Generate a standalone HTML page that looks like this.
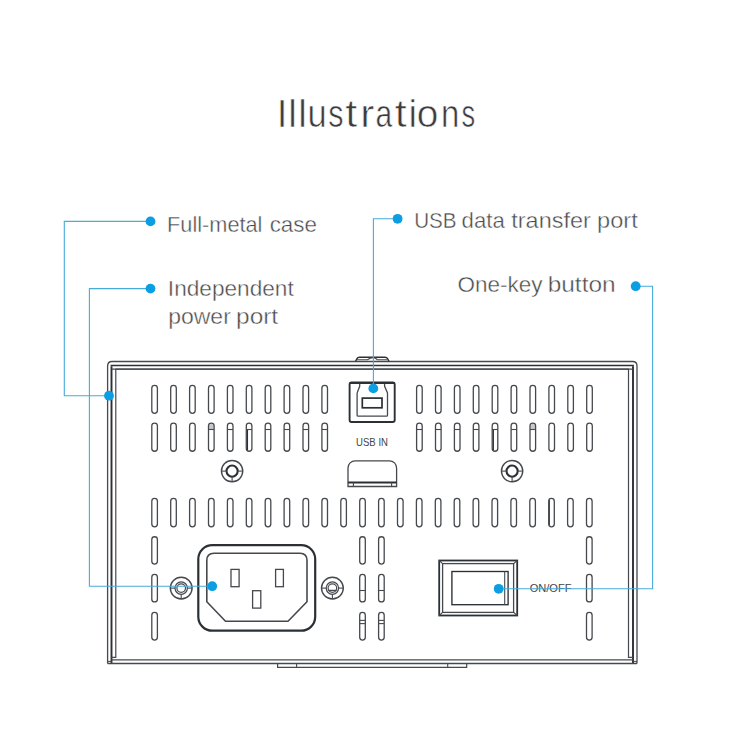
<!DOCTYPE html>
<html><head><meta charset="utf-8"><style>
html,body{margin:0;padding:0;background:#fff;width:750px;height:750px;overflow:hidden}
svg{position:absolute;left:0;top:0}
.t{font-family:"Liberation Sans",sans-serif;stroke:#fff;stroke-width:0.4px}
.big{stroke-width:0.6px}
.nos{stroke:none}

</style></head><body>
<svg width="750" height="750" viewBox="0 0 750 750">
<rect width="750" height="750" fill="#ffffff"/>
<rect x="151.80" y="385.35" width="5.60" height="28.00" rx="2.80" ry="2.80" fill="none" stroke="#45494e" stroke-width="1.3"/>
<rect x="151.80" y="423.05" width="5.60" height="28.20" rx="2.80" ry="2.80" fill="none" stroke="#45494e" stroke-width="1.3"/>
<rect x="416.60" y="385.35" width="5.60" height="28.00" rx="2.80" ry="2.80" fill="none" stroke="#45494e" stroke-width="1.3"/>
<rect x="416.60" y="423.05" width="5.60" height="28.20" rx="2.80" ry="2.80" fill="none" stroke="#45494e" stroke-width="1.3"/>
<rect x="170.70" y="385.35" width="5.60" height="28.00" rx="2.80" ry="2.80" fill="none" stroke="#45494e" stroke-width="1.3"/>
<rect x="170.70" y="423.05" width="5.60" height="28.20" rx="2.80" ry="2.80" fill="none" stroke="#45494e" stroke-width="1.3"/>
<rect x="435.50" y="385.35" width="5.60" height="28.00" rx="2.80" ry="2.80" fill="none" stroke="#45494e" stroke-width="1.3"/>
<rect x="435.50" y="423.05" width="5.60" height="28.20" rx="2.80" ry="2.80" fill="none" stroke="#45494e" stroke-width="1.3"/>
<rect x="189.60" y="385.35" width="5.60" height="28.00" rx="2.80" ry="2.80" fill="none" stroke="#45494e" stroke-width="1.3"/>
<rect x="189.60" y="423.05" width="5.60" height="28.20" rx="2.80" ry="2.80" fill="none" stroke="#45494e" stroke-width="1.3"/>
<rect x="454.40" y="385.35" width="5.60" height="28.00" rx="2.80" ry="2.80" fill="none" stroke="#45494e" stroke-width="1.3"/>
<rect x="454.40" y="423.05" width="5.60" height="28.20" rx="2.80" ry="2.80" fill="none" stroke="#45494e" stroke-width="1.3"/>
<rect x="208.50" y="385.35" width="5.60" height="28.00" rx="2.80" ry="2.80" fill="none" stroke="#45494e" stroke-width="1.3"/>
<rect x="208.50" y="423.05" width="5.60" height="28.20" rx="2.80" ry="2.80" fill="none" stroke="#45494e" stroke-width="1.3"/>
<rect x="473.30" y="385.35" width="5.60" height="28.00" rx="2.80" ry="2.80" fill="none" stroke="#45494e" stroke-width="1.3"/>
<rect x="473.30" y="423.05" width="5.60" height="28.20" rx="2.80" ry="2.80" fill="none" stroke="#45494e" stroke-width="1.3"/>
<rect x="227.40" y="385.35" width="5.60" height="28.00" rx="2.80" ry="2.80" fill="none" stroke="#45494e" stroke-width="1.3"/>
<rect x="227.40" y="423.05" width="5.60" height="28.20" rx="2.80" ry="2.80" fill="none" stroke="#45494e" stroke-width="1.3"/>
<rect x="492.20" y="385.35" width="5.60" height="28.00" rx="2.80" ry="2.80" fill="none" stroke="#45494e" stroke-width="1.3"/>
<rect x="492.20" y="423.05" width="5.60" height="28.20" rx="2.80" ry="2.80" fill="none" stroke="#45494e" stroke-width="1.3"/>
<rect x="246.30" y="385.35" width="5.60" height="28.00" rx="2.80" ry="2.80" fill="none" stroke="#45494e" stroke-width="1.3"/>
<rect x="246.30" y="423.05" width="5.60" height="28.20" rx="2.80" ry="2.80" fill="none" stroke="#45494e" stroke-width="1.3"/>
<rect x="511.10" y="385.35" width="5.60" height="28.00" rx="2.80" ry="2.80" fill="none" stroke="#45494e" stroke-width="1.3"/>
<rect x="511.10" y="423.05" width="5.60" height="28.20" rx="2.80" ry="2.80" fill="none" stroke="#45494e" stroke-width="1.3"/>
<rect x="265.20" y="385.35" width="5.60" height="28.00" rx="2.80" ry="2.80" fill="none" stroke="#45494e" stroke-width="1.3"/>
<rect x="265.20" y="423.05" width="5.60" height="28.20" rx="2.80" ry="2.80" fill="none" stroke="#45494e" stroke-width="1.3"/>
<rect x="530.00" y="385.35" width="5.60" height="28.00" rx="2.80" ry="2.80" fill="none" stroke="#45494e" stroke-width="1.3"/>
<rect x="530.00" y="423.05" width="5.60" height="28.20" rx="2.80" ry="2.80" fill="none" stroke="#45494e" stroke-width="1.3"/>
<rect x="284.10" y="385.35" width="5.60" height="28.00" rx="2.80" ry="2.80" fill="none" stroke="#45494e" stroke-width="1.3"/>
<rect x="284.10" y="423.05" width="5.60" height="28.20" rx="2.80" ry="2.80" fill="none" stroke="#45494e" stroke-width="1.3"/>
<rect x="548.90" y="385.35" width="5.60" height="28.00" rx="2.80" ry="2.80" fill="none" stroke="#45494e" stroke-width="1.3"/>
<rect x="548.90" y="423.05" width="5.60" height="28.20" rx="2.80" ry="2.80" fill="none" stroke="#45494e" stroke-width="1.3"/>
<rect x="303.00" y="385.35" width="5.60" height="28.00" rx="2.80" ry="2.80" fill="none" stroke="#45494e" stroke-width="1.3"/>
<rect x="303.00" y="423.05" width="5.60" height="28.20" rx="2.80" ry="2.80" fill="none" stroke="#45494e" stroke-width="1.3"/>
<rect x="567.80" y="385.35" width="5.60" height="28.00" rx="2.80" ry="2.80" fill="none" stroke="#45494e" stroke-width="1.3"/>
<rect x="567.80" y="423.05" width="5.60" height="28.20" rx="2.80" ry="2.80" fill="none" stroke="#45494e" stroke-width="1.3"/>
<rect x="321.90" y="385.35" width="5.60" height="28.00" rx="2.80" ry="2.80" fill="none" stroke="#45494e" stroke-width="1.3"/>
<rect x="321.90" y="423.05" width="5.60" height="28.20" rx="2.80" ry="2.80" fill="none" stroke="#45494e" stroke-width="1.3"/>
<rect x="586.70" y="385.35" width="5.60" height="28.00" rx="2.80" ry="2.80" fill="none" stroke="#45494e" stroke-width="1.3"/>
<rect x="586.70" y="423.05" width="5.60" height="28.20" rx="2.80" ry="2.80" fill="none" stroke="#45494e" stroke-width="1.3"/>
<line x1="208.50" y1="429.50" x2="214.10" y2="429.50" stroke="#45494e" stroke-width="1.1"/>
<line x1="227.40" y1="429.50" x2="233.00" y2="429.50" stroke="#45494e" stroke-width="1.1"/>
<line x1="246.30" y1="429.50" x2="251.90" y2="429.50" stroke="#45494e" stroke-width="1.1"/>
<line x1="265.20" y1="429.50" x2="270.80" y2="429.50" stroke="#45494e" stroke-width="1.1"/>
<line x1="284.10" y1="429.50" x2="289.70" y2="429.50" stroke="#45494e" stroke-width="1.1"/>
<line x1="303.00" y1="429.50" x2="308.60" y2="429.50" stroke="#45494e" stroke-width="1.1"/>
<line x1="321.90" y1="429.50" x2="327.50" y2="429.50" stroke="#45494e" stroke-width="1.1"/>
<line x1="416.60" y1="429.50" x2="422.20" y2="429.50" stroke="#45494e" stroke-width="1.1"/>
<line x1="435.50" y1="429.50" x2="441.10" y2="429.50" stroke="#45494e" stroke-width="1.1"/>
<line x1="454.40" y1="429.50" x2="460.00" y2="429.50" stroke="#45494e" stroke-width="1.1"/>
<line x1="473.30" y1="429.50" x2="478.90" y2="429.50" stroke="#45494e" stroke-width="1.1"/>
<line x1="492.20" y1="429.50" x2="497.80" y2="429.50" stroke="#45494e" stroke-width="1.1"/>
<line x1="511.10" y1="429.50" x2="516.70" y2="429.50" stroke="#45494e" stroke-width="1.1"/>
<line x1="530.00" y1="429.50" x2="535.60" y2="429.50" stroke="#45494e" stroke-width="1.1"/>
<line x1="247.50" y1="430.00" x2="247.50" y2="450.00" stroke="#2b3035" stroke-width="1.1"/>
<line x1="493.40" y1="430.00" x2="493.40" y2="450.00" stroke="#2b3035" stroke-width="1.1"/>
<path d="M208.90,429.5 V426.3 A2.4,2.4 0 0 1 213.70,426.3 V429.5 Z" fill="#45494e" fill-opacity="0.3"/>
<path d="M530.40,429.5 V426.3 A2.4,2.4 0 0 1 535.20,426.3 V429.5 Z" fill="#45494e" fill-opacity="0.3"/>
<rect x="151.80" y="498.35" width="5.60" height="28.50" rx="2.80" ry="2.80" fill="none" stroke="#45494e" stroke-width="1.3"/>
<rect x="170.70" y="498.35" width="5.60" height="28.50" rx="2.80" ry="2.80" fill="none" stroke="#45494e" stroke-width="1.3"/>
<rect x="189.60" y="498.35" width="5.60" height="28.50" rx="2.80" ry="2.80" fill="none" stroke="#45494e" stroke-width="1.3"/>
<rect x="208.50" y="498.35" width="5.60" height="28.50" rx="2.80" ry="2.80" fill="none" stroke="#45494e" stroke-width="1.3"/>
<rect x="227.40" y="498.35" width="5.60" height="28.50" rx="2.80" ry="2.80" fill="none" stroke="#45494e" stroke-width="1.3"/>
<rect x="246.30" y="498.35" width="5.60" height="28.50" rx="2.80" ry="2.80" fill="none" stroke="#45494e" stroke-width="1.3"/>
<rect x="265.20" y="498.35" width="5.60" height="28.50" rx="2.80" ry="2.80" fill="none" stroke="#45494e" stroke-width="1.3"/>
<rect x="284.10" y="498.35" width="5.60" height="28.50" rx="2.80" ry="2.80" fill="none" stroke="#45494e" stroke-width="1.3"/>
<rect x="303.00" y="498.35" width="5.60" height="28.50" rx="2.80" ry="2.80" fill="none" stroke="#45494e" stroke-width="1.3"/>
<rect x="321.90" y="498.35" width="5.60" height="28.50" rx="2.80" ry="2.80" fill="none" stroke="#45494e" stroke-width="1.3"/>
<rect x="340.80" y="498.35" width="5.60" height="28.50" rx="2.80" ry="2.80" fill="none" stroke="#45494e" stroke-width="1.3"/>
<rect x="359.70" y="498.35" width="5.60" height="28.50" rx="2.80" ry="2.80" fill="none" stroke="#45494e" stroke-width="1.3"/>
<rect x="378.60" y="498.35" width="5.60" height="28.50" rx="2.80" ry="2.80" fill="none" stroke="#45494e" stroke-width="1.3"/>
<rect x="397.50" y="498.35" width="5.60" height="28.50" rx="2.80" ry="2.80" fill="none" stroke="#45494e" stroke-width="1.3"/>
<rect x="416.40" y="498.35" width="5.60" height="28.50" rx="2.80" ry="2.80" fill="none" stroke="#45494e" stroke-width="1.3"/>
<rect x="435.30" y="498.35" width="5.60" height="28.50" rx="2.80" ry="2.80" fill="none" stroke="#45494e" stroke-width="1.3"/>
<rect x="454.20" y="498.35" width="5.60" height="28.50" rx="2.80" ry="2.80" fill="none" stroke="#45494e" stroke-width="1.3"/>
<rect x="473.10" y="498.35" width="5.60" height="28.50" rx="2.80" ry="2.80" fill="none" stroke="#45494e" stroke-width="1.3"/>
<rect x="492.00" y="498.35" width="5.60" height="28.50" rx="2.80" ry="2.80" fill="none" stroke="#45494e" stroke-width="1.3"/>
<rect x="510.90" y="498.35" width="5.60" height="28.50" rx="2.80" ry="2.80" fill="none" stroke="#45494e" stroke-width="1.3"/>
<rect x="529.80" y="498.35" width="5.60" height="28.50" rx="2.80" ry="2.80" fill="none" stroke="#45494e" stroke-width="1.3"/>
<rect x="548.70" y="498.35" width="5.60" height="28.50" rx="2.80" ry="2.80" fill="none" stroke="#45494e" stroke-width="1.3"/>
<rect x="567.60" y="498.35" width="5.60" height="28.50" rx="2.80" ry="2.80" fill="none" stroke="#45494e" stroke-width="1.3"/>
<rect x="586.50" y="498.35" width="5.60" height="28.50" rx="2.80" ry="2.80" fill="none" stroke="#45494e" stroke-width="1.3"/>
<line x1="549.50" y1="500.00" x2="549.50" y2="525.20" stroke="#45494e" stroke-width="1.0"/>
<rect x="151.80" y="536.75" width="5.60" height="27.30" rx="2.80" ry="2.80" fill="none" stroke="#45494e" stroke-width="1.3"/>
<rect x="151.80" y="574.35" width="5.60" height="27.60" rx="2.80" ry="2.80" fill="none" stroke="#45494e" stroke-width="1.3"/>
<rect x="151.80" y="612.35" width="5.60" height="27.70" rx="2.80" ry="2.80" fill="none" stroke="#45494e" stroke-width="1.3"/>
<rect x="359.70" y="536.75" width="5.60" height="27.30" rx="2.80" ry="2.80" fill="none" stroke="#45494e" stroke-width="1.3"/>
<rect x="359.70" y="574.35" width="5.60" height="27.60" rx="2.80" ry="2.80" fill="none" stroke="#45494e" stroke-width="1.3"/>
<rect x="359.70" y="612.35" width="5.60" height="27.70" rx="2.80" ry="2.80" fill="none" stroke="#45494e" stroke-width="1.3"/>
<rect x="378.60" y="536.75" width="5.60" height="27.30" rx="2.80" ry="2.80" fill="none" stroke="#45494e" stroke-width="1.3"/>
<rect x="378.60" y="574.35" width="5.60" height="27.60" rx="2.80" ry="2.80" fill="none" stroke="#45494e" stroke-width="1.3"/>
<rect x="378.60" y="612.35" width="5.60" height="27.70" rx="2.80" ry="2.80" fill="none" stroke="#45494e" stroke-width="1.3"/>
<rect x="586.50" y="536.75" width="5.60" height="27.30" rx="2.80" ry="2.80" fill="none" stroke="#45494e" stroke-width="1.3"/>
<rect x="586.50" y="574.35" width="5.60" height="27.60" rx="2.80" ry="2.80" fill="none" stroke="#45494e" stroke-width="1.3"/>
<rect x="586.50" y="612.35" width="5.60" height="27.70" rx="2.80" ry="2.80" fill="none" stroke="#45494e" stroke-width="1.3"/>
<line x1="359.70" y1="590.50" x2="365.30" y2="590.50" stroke="#45494e" stroke-width="1.1"/>
<line x1="359.70" y1="620.40" x2="365.30" y2="620.40" stroke="#45494e" stroke-width="1.1"/>
<line x1="359.70" y1="623.60" x2="365.30" y2="623.60" stroke="#45494e" stroke-width="1.1"/>
<line x1="378.60" y1="590.50" x2="384.20" y2="590.50" stroke="#45494e" stroke-width="1.1"/>
<line x1="378.60" y1="620.40" x2="384.20" y2="620.40" stroke="#45494e" stroke-width="1.1"/>
<line x1="378.60" y1="623.60" x2="384.20" y2="623.60" stroke="#45494e" stroke-width="1.1"/>
<path d="M107.6,663.5 V366 Q107.6,361.5 112,361.5 H632.6 Q637,361.5 637,366 V663.5" fill="none" stroke="#45494e" stroke-width="1.3"/>
<path d="M111.5,663.5 V366.2 M633.0,366.2 V663.5" fill="none" stroke="#2b3035" stroke-width="1.9"/>
<path d="M110.6,365.5 H633.9" fill="none" stroke="#2b3035" stroke-width="1.4"/>
<path d="M111.5,657.3 H115.8 V369.2 H628.5 V657.3 H633" fill="none" stroke="#45494e" stroke-width="1.2"/>
<line x1="107.60" y1="663.50" x2="637.00" y2="663.50" stroke="#45494e" stroke-width="1.3"/>
<line x1="111.50" y1="659.90" x2="633.00" y2="659.90" stroke="#45494e" stroke-width="1.4"/>
<line x1="107.60" y1="661.40" x2="111.50" y2="661.40" stroke="#45494e" stroke-width="1.0"/>
<line x1="633.00" y1="661.40" x2="637.00" y2="661.40" stroke="#45494e" stroke-width="1.0"/>
<line x1="111.60" y1="369.20" x2="632.90" y2="369.20" stroke="#45494e" stroke-width="1.2"/>
<path d="M355.5,361.5 L356.8,358.8 Q357.6,357.3 359.5,357.3 H385 Q386.9,357.3 387.7,358.8 L389,361.5" fill="none" stroke="#2b3035" stroke-width="1.4"/>
<path d="M357,359.8 H367.5 Q370.5,357.6 373,357.6 Q375.5,357.6 377.5,359.8 H388" fill="none" stroke="#45494e" stroke-width="1.1"/>
<path d="M277.6,663.5 V667.4 H466.7 V663.5" fill="none" stroke="#45494e" stroke-width="1.2"/>
<line x1="296.60" y1="663.50" x2="296.60" y2="667.40" stroke="#45494e" stroke-width="1.1"/>
<line x1="447.70" y1="663.50" x2="447.70" y2="667.40" stroke="#45494e" stroke-width="1.1"/>
<circle cx="232.1" cy="471.1" r="10.65" fill="none" stroke="#45494e" stroke-width="1.4"/>
<circle cx="232.1" cy="471.1" r="5.6" fill="none" stroke="#2b3035" stroke-width="2.1"/>
<line x1="221.45" y1="471.10" x2="226.50" y2="471.10" stroke="#45494e" stroke-width="1.1"/>
<line x1="237.70" y1="471.10" x2="242.75" y2="471.10" stroke="#45494e" stroke-width="1.1"/>
<line x1="232.10" y1="476.70" x2="232.10" y2="481.75" stroke="#45494e" stroke-width="1.1"/>
<circle cx="512.1" cy="471.1" r="10.65" fill="none" stroke="#45494e" stroke-width="1.4"/>
<circle cx="512.1" cy="471.1" r="5.6" fill="none" stroke="#2b3035" stroke-width="2.1"/>
<line x1="501.45" y1="471.10" x2="506.50" y2="471.10" stroke="#45494e" stroke-width="1.1"/>
<line x1="517.70" y1="471.10" x2="522.75" y2="471.10" stroke="#45494e" stroke-width="1.1"/>
<line x1="512.10" y1="476.70" x2="512.10" y2="481.75" stroke="#45494e" stroke-width="1.1"/>
<circle cx="181.2" cy="588.1" r="10.9" fill="none" stroke="#45494e" stroke-width="1.4"/>
<circle cx="181.2" cy="588.1" r="6.2" fill="none" stroke="#45494e" stroke-width="1.2"/>
<circle cx="181.2" cy="588.1" r="4.3" fill="none" stroke="#45494e" stroke-width="1.2"/>
<line x1="170.30" y1="588.10" x2="175.00" y2="588.10" stroke="#45494e" stroke-width="1.1"/>
<line x1="187.40" y1="588.10" x2="192.10" y2="588.10" stroke="#45494e" stroke-width="1.1"/>
<line x1="181.20" y1="594.30" x2="181.20" y2="599.00" stroke="#45494e" stroke-width="1.1"/>
<circle cx="332.4" cy="588.1" r="10.9" fill="none" stroke="#45494e" stroke-width="1.4"/>
<circle cx="332.4" cy="588.1" r="6.2" fill="none" stroke="#45494e" stroke-width="1.2"/>
<circle cx="332.4" cy="588.1" r="4.3" fill="none" stroke="#45494e" stroke-width="1.2"/>
<line x1="321.50" y1="588.10" x2="326.20" y2="588.10" stroke="#45494e" stroke-width="1.1"/>
<line x1="338.60" y1="588.10" x2="343.30" y2="588.10" stroke="#45494e" stroke-width="1.1"/>
<line x1="332.40" y1="594.30" x2="332.40" y2="599.00" stroke="#45494e" stroke-width="1.1"/>
<line x1="328.40" y1="590.40" x2="336.40" y2="590.40" stroke="#45494e" stroke-width="1.3"/>
<rect x="198.3" y="545.1" width="116.9" height="85.6" rx="14" ry="14" fill="none" stroke="#2b3035" stroke-width="2.2"/>
<path d="M206.8,601.7 V560.5 Q206.8,553.2 214,553.2 H300 Q307,553.2 307,560.5 V601.7 L288,621.3 H225.5 Z" fill="none" stroke="#45494e" stroke-width="1.6"/>
<rect x="231.0" y="569.4" width="8.10" height="17.30" fill="none" stroke="#45494e" stroke-width="1.3"/>
<rect x="275.6" y="569.4" width="7.80" height="17.30" fill="none" stroke="#45494e" stroke-width="1.3"/>
<rect x="252.6" y="590.7" width="8.20" height="17.40" fill="none" stroke="#45494e" stroke-width="1.3"/>
<rect x="439.2" y="560.5" width="78" height="55" fill="none" stroke="#2b3035" stroke-width="1.8"/>
<rect x="442.6" y="563.6" width="71" height="48.8" fill="none" stroke="#45494e" stroke-width="1.3"/>
<path d="M439.2,560.5 L442.6,563.6 M517.2,560.5 L513.6,563.6 M439.2,615.5 L442.6,612.4 M517.2,615.5 L513.6,612.4" stroke="#45494e" stroke-width="1.1"/>
<rect x="451.9" y="571.5" width="56.2" height="33.2" fill="none" stroke="#2b3035" stroke-width="1.35"/>
<line x1="504.70" y1="571.50" x2="504.70" y2="604.70" stroke="#45494e" stroke-width="1.1"/>
<rect x="349.6" y="382.4" width="45.1" height="39.6" rx="2" fill="none" stroke="#2b3035" stroke-width="1.9"/>
<path d="M357.1,392.9 V415.2 Q357.1,416.2 358.1,416.2 H386.5 Q387.5,416.2 387.5,415.2 V392.9 L384.6,386.3 V383 M357.1,392.9 L359.7,386.3 V383" fill="none" stroke="#45494e" stroke-width="1.3"/>
<line x1="349.60" y1="383.20" x2="394.70" y2="383.20" stroke="#2b3035" stroke-width="1.6"/>
<!-- -->
<rect x="362.3" y="398.1" width="19.7" height="9.7" fill="none" stroke="#2b3035" stroke-width="1.7"/>
<path d="M348,486.5 V468 A7.2,7.2 0 0 1 355.2,460.8 H389.4 A7.2,7.2 0 0 1 396.6,468 V486.5 Z" fill="none" stroke="#45494e" stroke-width="1.3"/>
<line x1="348.00" y1="482.50" x2="396.60" y2="482.50" stroke="#2b3035" stroke-width="1.8"/>
<line x1="353.40" y1="482.50" x2="353.40" y2="486.50" stroke="#45494e" stroke-width="1.1"/>
<line x1="391.60" y1="482.50" x2="391.60" y2="486.50" stroke="#45494e" stroke-width="1.1"/>
<g><text class="t big" transform="translate(282.00,0) scale(1.000,1)" x="-5.35" y="127.0" font-size="38.5" style="fill:#3c3c3c">I</text><text class="t big" transform="translate(292.65,0) scale(1.000,1)" x="-4.29" y="127.0" font-size="38.5" style="fill:#3c3c3c">l</text><text class="t big" transform="translate(302.60,0) scale(1.000,1)" x="-4.29" y="127.0" font-size="38.5" style="fill:#3c3c3c">l</text><text class="t big" transform="translate(317.00,0) scale(0.893,1)" x="-10.68" y="127.0" font-size="38.5" style="fill:#3c3c3c">u</text><text class="t big" transform="translate(335.65,0) scale(0.792,1)" x="-9.47" y="127.0" font-size="38.5" style="fill:#3c3c3c">s</text><text class="t big" transform="translate(351.30,0) scale(1.120,1)" x="-5.50" y="127.0" font-size="38.5" style="fill:#3c3c3c">t</text><text class="t big" transform="translate(368.30,0) scale(1.101,1)" x="-7.37" y="127.0" font-size="38.5" style="fill:#3c3c3c">r</text><text class="t big" transform="translate(384.40,0) scale(0.779,1)" x="-11.52" y="127.0" font-size="38.5" style="fill:#3c3c3c">a</text><text class="t big" transform="translate(400.95,0) scale(1.120,1)" x="-5.50" y="127.0" font-size="38.5" style="fill:#3c3c3c">t</text><text class="t big" transform="translate(412.85,0) scale(1.000,1)" x="-4.27" y="127.0" font-size="38.5" style="fill:#3c3c3c">i</text><text class="t big" transform="translate(427.45,0) scale(1.007,1)" x="-10.71" y="127.0" font-size="38.5" style="fill:#3c3c3c">o</text><text class="t big" transform="translate(450.10,0) scale(0.856,1)" x="-10.73" y="127.0" font-size="38.5" style="fill:#3c3c3c">n</text><text class="t big" transform="translate(468.15,0) scale(0.709,1)" x="-9.47" y="127.0" font-size="38.5" style="fill:#3c3c3c">s</text></g>
<text class="t" x="167.07" y="231.8" font-size="22.5" style="fill:#4a4a4a" textLength="95.35" lengthAdjust="spacingAndGlyphs">Full-metal</text>
<text class="t" x="269.64" y="231.8" font-size="22.5" style="fill:#4a4a4a" textLength="47.34" lengthAdjust="spacingAndGlyphs">case</text>
<text class="t" x="167.86" y="296.0" font-size="22.5" style="fill:#4a4a4a" textLength="125.89" lengthAdjust="spacingAndGlyphs">Independent</text>
<text class="t" x="168.18" y="323.6" font-size="22.5" style="fill:#4a4a4a" textLength="62.63" lengthAdjust="spacingAndGlyphs">power</text>
<text class="t" x="236.05" y="323.6" font-size="22.5" style="fill:#4a4a4a" textLength="42.12" lengthAdjust="spacingAndGlyphs">port</text>
<text class="t" x="414.21" y="227.5" font-size="22.5" style="fill:#4a4a4a" textLength="42.42" lengthAdjust="spacingAndGlyphs">USB</text>
<text class="t" x="461.61" y="227.5" font-size="22.5" style="fill:#4a4a4a" textLength="43.21" lengthAdjust="spacingAndGlyphs">data</text>
<text class="t" x="511.30" y="227.5" font-size="22.5" style="fill:#4a4a4a" textLength="79.45" lengthAdjust="spacingAndGlyphs">transfer</text>
<text class="t" x="597.10" y="227.5" font-size="22.5" style="fill:#4a4a4a" textLength="40.67" lengthAdjust="spacingAndGlyphs">port</text>
<text class="t" x="457.50" y="291.9" font-size="22.5" style="fill:#4a4a4a" textLength="85.07" lengthAdjust="spacingAndGlyphs">One-key</text>
<text class="t" x="547.69" y="291.9" font-size="22.5" style="fill:#4a4a4a" textLength="67.95" lengthAdjust="spacingAndGlyphs">button</text>
<text class="t nos" x="356.09" y="445.7" font-size="11.0" style="fill:#444444" textLength="31.90" lengthAdjust="spacingAndGlyphs">USB IN</text>
<text class="t nos" x="529.63" y="591.5" font-size="11.6" style="fill:#444444" textLength="41.95" lengthAdjust="spacingAndGlyphs">ON/OFF</text>
<path d="M150.5,221.4 L64.3,221.4 L64.3,395.7 L109,395.7" fill="none" stroke="#45acdc" stroke-width="1.1"/>
<path d="M150.5,288.6 L89.4,288.6 L89.4,586.2 L212.2,586.2" fill="none" stroke="#45acdc" stroke-width="1.1"/>
<path d="M397.6,218.8 L373.4,218.8 L373.4,388.4" fill="none" stroke="#45acdc" stroke-width="1.1"/>
<path d="M635.7,286.2 L652.6,286.2 L652.6,588.8 L498.7,588.8" fill="none" stroke="#45acdc" stroke-width="1.1"/>
<circle cx="150.5" cy="221.4" r="4.9" fill="#0b9ee2"/>
<circle cx="109" cy="395.7" r="4.9" fill="#0b9ee2"/>
<circle cx="150.5" cy="288.6" r="4.9" fill="#0b9ee2"/>
<circle cx="212.2" cy="586.2" r="4.9" fill="#0b9ee2"/>
<circle cx="397.6" cy="218.8" r="4.9" fill="#0b9ee2"/>
<circle cx="373.3" cy="388.4" r="4.9" fill="#0b9ee2"/>
<circle cx="635.7" cy="286.2" r="4.9" fill="#0b9ee2"/>
<circle cx="498.7" cy="588.8" r="4.9" fill="#0b9ee2"/>
</svg>
</body></html>
